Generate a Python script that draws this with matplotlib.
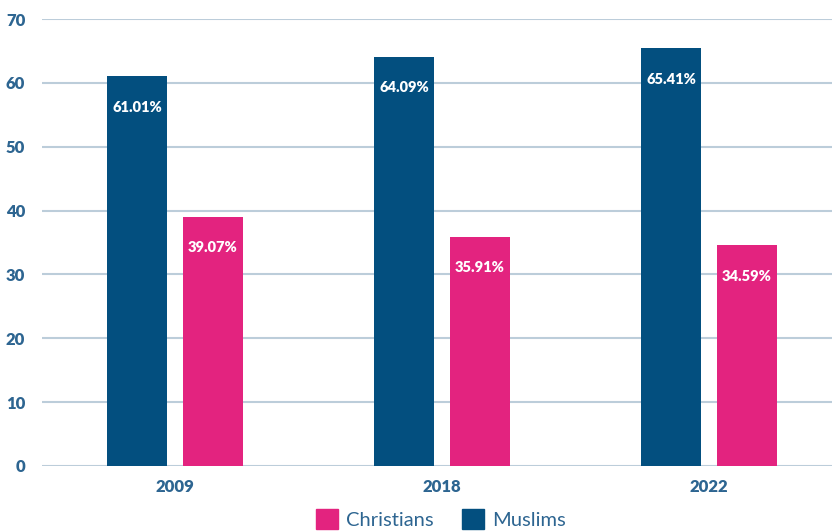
import numpy as np
import matplotlib
matplotlib.use('Agg')
import matplotlib.pyplot as plt
from matplotlib.patches import Patch

years = ['2009', '2018', '2022']
muslims = [61.01, 64.09, 65.41]
christians = [39.07, 35.91, 34.59]
y_ticks = [0, 10, 20, 30, 40, 50, 60, 70]

muslim_color = '#034f7f'
christian_color = '#e3237f'
text_color = '#2d6591'
grid_color = '#bccdda'

plt.rcParams['font.family'] = ['Lato', 'DejaVu Sans']

fig = plt.figure(figsize=(8.32, 5.31), dpi=100)
ax = fig.add_axes([42 / 832, 1 - 466 / 531, 1 - 42 / 832, (466 - 19) / 531])

x = np.arange(len(years))
width = 0.225
offset = 0.142

bars_m = ax.bar(x - offset, muslims, width, color=muslim_color, zorder=3)
bars_c = ax.bar(x + offset, christians, width, color=christian_color, zorder=3)

# value labels sit just inside the top of each bar
for bars, vals in ((bars_m, muslims), (bars_c, christians)):
    for b, v in zip(bars, vals):
        ax.annotate('{:.2f}%'.format(v), (b.get_x() + b.get_width() / 2, v),
                    xytext=(0, -31), textcoords='offset pixels',
                    ha='center', va='center', color='white',
                    fontsize=10.5, fontweight='heavy', zorder=4)

ax.set_xlim(-0.498, 2.46)
ax.set_ylim(0, 70)
ax.set_yticks(y_ticks)
ax.set_xticks(x)
ax.set_xticklabels(years)
ax.yaxis.grid(True, color=grid_color, linewidth=1.5, zorder=0)
ax.set_axisbelow(True)
for s in ax.spines.values():
    s.set_visible(False)
ax.tick_params(axis='both', length=0, colors=text_color, labelsize=12)
ax.tick_params(axis='y', pad=12)
ax.tick_params(axis='x', pad=9)
for lbl in ax.get_xticklabels() + ax.get_yticklabels():
    lbl.set_fontweight('heavy')

handles = [Patch(color=christian_color, label='Christians'),
           Patch(color=muslim_color, label='Muslims')]
fig.legend(handles=handles, loc='center', bbox_to_anchor=(441 / 832, 1 - 519 / 531),
           ncol=2, frameon=False, fontsize=14.5, handlelength=1.1, handleheight=1.1,
           handletextpad=0.4, columnspacing=1.4, labelcolor=text_color)

fig.savefig('out.png', dpi=100)
